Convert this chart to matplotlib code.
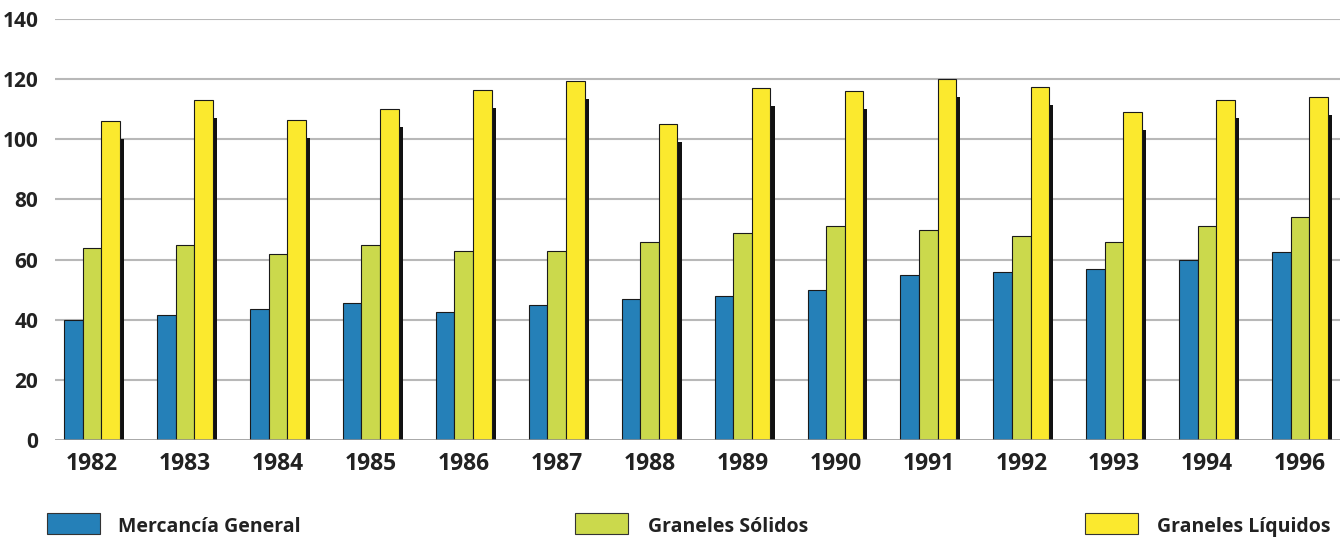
import matplotlib
matplotlib.use("Agg")
import matplotlib.pyplot as plt
from matplotlib.patches import Rectangle
import numpy as np

years = ["1982", "1983", "1984", "1985", "1986", "1987", "1988", "1989",
         "1990", "1991", "1992", "1993", "1994", "1996"]
mercancia_general = [40, 41.5, 43.5, 45.5, 42.5, 45, 47, 48, 50, 55, 56, 57, 60, 62.5]
graneles_solidos = [64, 65, 62, 65, 63, 63, 66, 69, 71, 70, 68, 66, 71, 74]
graneles_liquidos = [106, 113, 106.5, 110, 116.5, 119.5, 105, 117, 116, 120, 117.5, 109, 113, 114]
yticks = [0, 20, 40, 60, 80, 100, 120, 140]
labels = ["Mercancía General", "Graneles Sólidos", "Graneles Líquidos"]

c_blue = "#2580b8"
c_green = "#cbd94c"
c_yellow = "#fbe92e"
font = "Open Sans"

W, H = 1344, 541
fig = plt.figure(figsize=(W / 100, H / 100), dpi=100)
ax = fig.add_axes([55 / W, (H - 440) / H, (1340 - 55) / W, (440 - 19) / H])

x = np.arange(len(years))
w = 0.2
ax.bar(x - w, mercancia_general, w, color=c_blue, edgecolor="#1a1a1a", linewidth=0.8, zorder=3)
ax.bar(x, graneles_solidos, w, color=c_green, edgecolor="#1a1a1a", linewidth=0.8, zorder=3)
# drop shadow behind the yellow bars
shadow = [v - 6 for v in graneles_liquidos]
ax.bar(x + w + 0.045, shadow, w, color="#111111", linewidth=0, zorder=2.5)
ax.bar(x + w, graneles_liquidos, w, color=c_yellow, edgecolor="#1a1a1a", linewidth=0.8, zorder=3)

ax.set_ylim(0, 140)
ax.set_xlim(-0.398, 13.43)
ax.set_yticks(yticks)
ax.set_yticklabels([str(t) for t in yticks], fontsize=15, fontweight="bold", family=font, color="#222222")
ax.set_xticks(x)
ax.set_xticklabels(years, fontsize=16.5, fontweight="bold", family=font, color="#222222")
ax.tick_params(axis="both", length=0)
ax.tick_params(axis="y", pad=12)
ax.tick_params(axis="x", pad=9)
for s in ax.spines.values():
    s.set_visible(False)
for t in yticks[1:]:
    ax.axhline(t, color="#b8b8b8", linewidth=1.5, zorder=1)
ax.axhline(0, color="#8f8f8f", linewidth=1.8, zorder=4)

# legend drawn manually along the bottom
leg = [(47, c_blue, 118), (575, c_green, 648), (1085, c_yellow, 1157)]
for (px, col, tx), lab in zip(leg, labels):
    fig.patches.append(Rectangle((px / W, (H - 534) / H), 53 / W, 21 / H,
                                 transform=fig.transFigure, facecolor=col,
                                 edgecolor="#333333", linewidth=0.8))
    fig.text(tx / W, (H - 527) / H, lab, fontsize=14, fontweight="bold",
             family=font, color="#222222", va="center", ha="left")

fig.savefig("out.png", dpi=100, facecolor="white")
